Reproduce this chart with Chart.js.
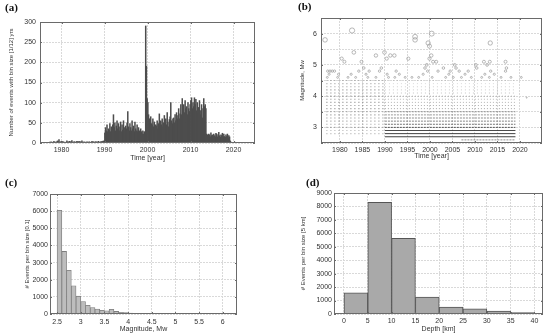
<!DOCTYPE html>
<html>
<head>
<meta charset="utf-8">
<script src="https://cdn.jsdelivr.net/npm/chart.js@4.4.0/dist/chart.umd.min.js"></script>
<style>
  body { margin: 0; background: #fff; }
  #fig { position: relative; width: 550px; height: 334px; overflow: hidden; }
  .panel { position: absolute; width: 275px; height: 167px; }
  .tag { position: absolute; font: bold 11px 'Liberation Serif', 'DejaVu Serif', serif; line-height: 12px; color: #111; }
</style>
</head>
<body>
<div id="fig">
  <div class="panel" style="left:0;top:0"><canvas id="chartA" width="275" height="167"></canvas></div>
  <div class="panel" style="left:275px;top:0"><canvas id="chartB" width="275" height="167"></canvas></div>
  <div class="panel" style="left:0;top:167px"><canvas id="chartC" width="275" height="167"></canvas></div>
  <div class="panel" style="left:275px;top:167px"><canvas id="chartD" width="275" height="167"></canvas></div>
  <div class="tag" style="left:5px;top:1px">(a)</div>
  <div class="tag" style="left:298px;top:0px">(b)</div>
  <div class="tag" style="left:5px;top:176px">(c)</div>
  <div class="tag" style="left:306px;top:176px">(d)</div>
</div>
<script>
// (a) events per month, read as 6 bins a year starting 1977
const countStartYear = 1977;
const binsPerYear = 6;
const eventCounts = [
  0, 2, 0, 3, 1, 0,        // 1977
  2, 4, 1, 0, 3, 2,        // 1978
  5, 3, 8, 2, 1, 4,        // 1979
  2, 0, 3, 1, 2, 0,        // 1980
  1, 5, 2, 3, 0, 4,        // 1981
  2, 3, 6, 1, 2, 3,        // 1982
  3, 1, 2, 4, 3, 2,        // 1983
  4, 2, 3, 1, 5, 2,        // 1984
  1, 3, 0, 2, 1, 3,        // 1985
  2, 1, 3, 2, 0, 1,        // 1986
  4, 2, 3, 1, 2, 3,        // 1987
  2, 3, 1, 4, 2, 1,        // 1988
  3, 2, 4, 3, 5, 4,        // 1989
  25, 38, 30, 45, 28, 35,  // 1990
  32, 48, 28, 40, 35, 45,  // 1991
  70, 38, 50, 30, 42, 55,  // 1992
  35, 48, 30, 40, 52, 28,  // 1993
  45, 32, 55, 38, 30, 42,  // 1994
  35, 50, 78, 40, 30, 48,  // 1995
  38, 30, 55, 35, 42, 28,  // 1996
  52, 35, 30, 45, 28, 38,  // 1997
  30, 25, 35, 28, 22, 30,  // 1998
  22, 28, 20, 290, 190, 110, // 1999
  100, 70, 60, 55, 65, 48, // 2000
  45, 60, 40, 52, 38, 45,  // 2001
  42, 55, 35, 48, 72, 40,  // 2002
  55, 45, 60, 40, 50, 68,  // 2003
  48, 60, 45, 75, 52, 40,  // 2004
  58, 65, 100, 55, 48, 60, // 2005
  62, 50, 70, 55, 75, 60,  // 2006
  68, 85, 60, 72, 95, 70,  // 2007
  110, 80, 95, 75, 105, 85, // 2008
  90, 70, 100, 85, 78, 95, // 2009
  105, 112, 85, 100, 90, 112, // 2010
  95, 108, 80, 100, 72, 88, // 2011
  105, 80, 70, 95, 62, 85, // 2012
  110, 90, 95, 85, 22, 20, // 2013
  18, 22, 20, 15, 25, 18,  // 2014
  20, 16, 22, 18, 15, 24,  // 2015
  22, 15, 20, 26, 18, 14,  // 2016
  20, 18, 24, 15, 22, 16,  // 2017
  14, 20, 16, 22, 12, 18,  // 2018
  15, 5, 2, 0, 1, 0,       // 2019
  1, 2, 0, 1, 0, 0         // 2020
];
const timeTicksA = [1980, 1990, 2000, 2010, 2020];
const countTicks = [0, 50, 100, 150, 200, 250, 300];

// (b) magnitude vs time: dense rows of small events, then single larger events
const rowMags   = [2.6, 2.7, 2.8, 2.9, 3.0, 3.1, 3.2, 3.3, 3.4, 3.5, 3.6, 3.7, 3.8, 3.9, 4.0, 4.1, 4.2, 4.3, 4.4, 4.5];
const rowFrom   = [2007, 1990, 1990, 1990, 1990, 1990, 1990, 1990, 1990, 1990, 1990, 1990, 1990, 1990, 1990, 1990, 1990, 1990, 1990, 1990];
const rowTo     = [2019, 2019, 2019, 2019, 2019, 2019, 2019, 2019, 2019, 2019, 2019, 2019, 2019, 2019, 2019, 2019, 2019, 2019, 2019, 2019];
const rowShade  = [0.5, 0.85, 0.85, 0.8, 0.72, 0.62, 0.55, 0.5, 0.45, 0.42, 0.38, 0.35, 0.32, 0.3, 0.28, 0.25, 0.22, 0.2, 0.16, 0.14];
const earlyShade = [0, 0, 0.35, 0.35, 0.45, 0.45, 0.45, 0.5, 0.5, 0.5, 0.5, 0.5, 0.5, 0.5, 0.55, 0.55, 0.5, 0.45, 0.4, 0.35];
const earlyFrom = 1977;
const earlyTo = 1990;
const eventYears = [
  1976.7, 1982.7, 1983.1, 1980.4, 1981.0, 1984.8, 1988.0, 1989.9, 1990.4, 1991.2, 1992.1,
  1995.2, 1996.7, 1996.7, 1999.6, 1999.9, 2000.4, 1999.9, 2000.3, 2000.7, 2001.4, 2013.4,
  2012.0, 2013.3, 2016.8, 1999.3, 2005.5, 2010.2, 2012.7,
  1977.3, 1977.8, 1978.3, 1978.8, 1984.2, 1986.5, 1988.8, 1992.5, 1999.5, 2001.8, 2004.5,
  2006.5, 2008.5, 2013.5, 2016.8,
  1977.6, 1979.7, 1982.5, 1985.8, 1990.5, 1993.2, 1998.5, 2004.2, 2007.8, 2012.2, 2014.3,
  1985.3, 1989.2, 1998.9, 2003.0, 2005.8, 2010.4, 2017.0,
  1977.2, 1979.5, 1981.8, 1983.5, 1986.2, 1988.0, 1990.8, 1992.2, 1994.5, 1996.0, 1997.5,
  2000.5, 2003.5, 2005.2, 2007.0, 2009.2, 2011.5, 2013.2, 2015.8, 2018.0, 2020.3, 2021.5
];
const eventMags = [
  5.8, 6.1, 5.4, 5.2, 5.1, 5.1, 5.3, 5.4, 5.2, 5.3, 5.3,
  5.2, 5.9, 5.8, 5.7, 5.6, 6.0, 5.2, 5.3, 5.1, 5.1, 5.7,
  5.1, 5.1, 5.1, 5.0, 5.0, 5.0, 5.0,
  4.8, 4.8, 4.8, 4.8, 4.8, 4.8, 4.8, 4.8, 4.8, 4.8, 4.8,
  4.8, 4.8, 4.8, 4.8,
  4.7, 4.7, 4.7, 4.7, 4.7, 4.7, 4.7, 4.7, 4.7, 4.7, 4.7,
  4.9, 4.9, 4.9, 4.9, 4.9, 4.9, 4.9,
  4.6, 4.6, 4.6, 4.6, 4.6, 4.6, 4.6, 4.6, 4.6, 4.6, 4.6,
  4.6, 4.6, 4.6, 4.6, 4.6, 4.6, 4.6, 4.6, 4.6, 4.6, 3.95
];
const timeTicksB = [1980, 1985, 1990, 1995, 2000, 2005, 2010, 2015, 2020];
const magTicksB = [2.5, 3, 3.5, 4, 4.5, 5, 5.5, 6, 6.5];

// (c) magnitude histogram, 0.1 bins
const magBins = [2.5, 2.6, 2.7, 2.8, 2.9, 3.0, 3.1, 3.2, 3.3, 3.4, 3.5, 3.6, 3.7, 3.8, 3.9, 4.0, 4.1, 4.2, 4.3,
                 4.4, 4.5, 4.6, 4.7, 4.8, 4.9, 5.0, 5.1, 5.2, 5.3, 5.4, 5.5, 5.6, 5.7, 5.8, 5.9, 6.0, 6.1];
const magCounts = [6050, 3650, 2550, 1650, 1040, 730, 510, 380, 290, 220, 190, 270, 150, 100, 80, 60, 45, 35, 25,
                   20, 18, 14, 12, 8, 5, 5, 6, 4, 3, 2, 0, 1, 2, 2, 1, 1, 1];
const magBinWidth = 0.1;
const magTicksC = [2.5, 3, 3.5, 4, 4.5, 5, 5.5, 6];
const countTicksC = [0, 1000, 2000, 3000, 4000, 5000, 6000, 7000];

// (d) depth histogram, 5 km bins
const depthBins = [0, 5, 10, 15, 20, 25, 30, 35];
const depthCounts = [1570, 8310, 5620, 1250, 510, 380, 210, 100];
const depthBinWidth = 5;
const depthTicks = [0, 5, 10, 15, 20, 25, 30, 35, 40];
const countTicksD = [0, 1000, 2000, 3000, 4000, 5000, 6000, 7000, 8000, 9000];

Chart.defaults.font.family = "'Liberation Sans', Arial, sans-serif";
Chart.defaults.animation = false;
Chart.defaults.plugins.legend.display = false;
Chart.defaults.plugins.tooltip.enabled = false;

const H = 167, W = 275;
const gridColor = '#d9d9d9';
const textColor = '#333';

// box round the plot with small inward ticks on all sides
const frame = {
  id: 'frame',
  afterDraw(chart) {
    const { ctx, chartArea: a, scales } = chart;
    ctx.save();
    ctx.strokeStyle = '#6a6a6a';
    ctx.lineWidth = 1;
    ctx.strokeRect(Math.round(a.left) + 0.5, Math.round(a.top) + 0.5,
      Math.round(a.right - a.left) - 1, Math.round(a.bottom - a.top) - 1);
    ctx.beginPath();
    scales.x.ticks.forEach(t => {
      const px = Math.round(scales.x.getPixelForValue(t.value)) + 0.5;
      ctx.moveTo(px, a.top); ctx.lineTo(px, a.top + 2);
      ctx.moveTo(px, a.bottom); ctx.lineTo(px, a.bottom - 2);
    });
    scales.y.ticks.forEach(t => {
      const py = Math.round(scales.y.getPixelForValue(t.value)) + 0.5;
      ctx.moveTo(a.left, py); ctx.lineTo(a.left + 2, py);
      ctx.moveTo(a.right, py); ctx.lineTo(a.right - 2, py);
    });
    ctx.stroke();
    ctx.restore();
  }
};

function xAxis(g, min, max, ticks, title, tickPad, titlePad, fmt) {
  return {
    type: 'linear', min, max, offset: false,
    afterBuildTicks: s => { s.ticks = ticks.map(v => ({ value: v })); },
    afterFit: s => { s.height = H - g.B; },
    grid: { color: gridColor, drawTicks: false, offset: false },
    border: { display: false, dash: [2, 1] },
    ticks: { padding: tickPad, font: { size: 7 }, color: textColor, maxRotation: 0, autoSkip: false,
             callback: fmt || (v => String(v)) },
    title: { display: true, text: title, font: { size: 7 }, color: textColor, padding: { top: 0, bottom: titlePad } }
  };
}

function yAxis(g, min, max, ticks, title, tickPad, titlePad, fmt, titleSize) {
  return {
    type: 'linear', min, max,
    afterBuildTicks: s => { s.ticks = ticks.map(v => ({ value: v })); },
    afterFit: s => { s.width = g.L; },
    grid: { color: gridColor, drawTicks: false },
    border: { display: false, dash: [2, 1] },
    ticks: { padding: tickPad, font: { size: 7 }, color: textColor, autoSkip: false,
             callback: fmt || (v => String(v)) },
    title: { display: true, text: title, font: { size: titleSize || 6 }, color: textColor, padding: { top: titlePad, bottom: 0 } }
  };
}

function layoutFor(g) {
  return { padding: { left: 0, top: g.T, right: W - g.R, bottom: 0 } };
}

// ---- (a)
const gA = { L: 40, R: 255, T: 22, B: 143 };
new Chart(document.getElementById('chartA'), {
  type: 'bar',
  data: {
    datasets: [{
      data: eventCounts.map((c, i) => ({ x: countStartYear + (i + 0.5) / binsPerYear, y: c })),
      backgroundColor: '#4d4d4d',
      borderWidth: 0,
      inflateAmount: 0.4,
      barPercentage: 1,
      categoryPercentage: 1
    }]
  },
  options: {
    responsive: false,
    layout: layoutFor(gA),
    scales: {
      x: xAxis(gA, 1975, 2025, timeTicksA, 'Time [year]', 3, 5),
      y: yAxis(gA, 0, 300, countTicks, 'Number of events with bin size [1/12] yrs', 4, 8)
    }
  },
  plugins: [frame]
});

// ---- (b)
const gB = { L: 46, R: 267, T: 18, B: 143 };
const rowSets = [];
rowMags.forEach((m, i) => {
  const s = rowShade[i];
  rowSets.push({
    type: 'line',
    data: [{ x: rowFrom[i], y: m }, { x: rowTo[i], y: m }],
    borderColor: `rgba(30,30,30,${s})`,
    borderWidth: 1,
    borderDash: s > 0.78 ? [] : s > 0.4 ? [2, 1] : s > 0.25 ? [1, 2] : [1, 3],
    pointRadius: 0
  });
  if (earlyShade[i] > 0) {
    rowSets.push({
      type: 'line',
      data: [{ x: earlyFrom, y: m }, { x: earlyTo, y: m }],
      borderColor: `rgba(30,30,30,${earlyShade[i]})`,
      borderWidth: 1.2,
      borderDash: [1, 3],
      pointRadius: 0
    });
  }
});
new Chart(document.getElementById('chartB'), {
  type: 'scatter',
  data: {
    datasets: rowSets.concat([{
      data: eventYears.map((y, i) => ({ x: y, y: eventMags[i] })),
      pointStyle: 'circle',
      pointRadius: ctx => 0.3 + Math.max(ctx.raw.y - 4, 0.2) * 1.1,
      backgroundColor: 'rgba(0,0,0,0)',
      borderColor: '#9a9a9a',
      borderWidth: 0.7
    }])
  },
  options: {
    responsive: false,
    layout: layoutFor(gB),
    scales: {
      x: xAxis(gB, 1975.8, 2024.9, timeTicksB, 'Time [year]', 3, 7),
      y: yAxis(gB, 2.5, 6.5, magTicksB, 'Magnitude, Mw', 4, 24,
               v => Number.isInteger(v) ? String(v) : '')
    }
  },
  plugins: [frame]
});

// ---- (c)
const gC = { L: 50, R: 237, T: 27, B: 147 };
new Chart(document.getElementById('chartC'), {
  type: 'bar',
  data: {
    datasets: [{
      data: magBins.map((b, i) => ({ x: b + magBinWidth / 2, y: magCounts[i] })),
      backgroundColor: '#bdbdbd',
      borderColor: '#7d7d7d',
      borderWidth: 0.8,
      barPercentage: 1,
      categoryPercentage: 1
    }]
  },
  options: {
    responsive: false,
    layout: layoutFor(gC),
    scales: {
      x: xAxis(gC, 2.35, 6.3, magTicksC, 'Magnitude, Mw', 4, 1),
      y: yAxis(gC, 0, 7000, countTicksC, '# Events per bin size [0.1]', 2, 24)
    }
  },
  plugins: [frame]
});

// ---- (d)
const gD = { L: 59, R: 268, T: 26, B: 147 };
new Chart(document.getElementById('chartD'), {
  type: 'bar',
  data: {
    datasets: [{
      data: depthBins.map((b, i) => ({ x: b + depthBinWidth / 2, y: depthCounts[i] })),
      backgroundColor: '#a9a9a9',
      borderColor: '#555',
      borderWidth: 1,
      barPercentage: 1,
      categoryPercentage: 1
    }]
  },
  options: {
    responsive: false,
    layout: layoutFor(gD),
    scales: {
      x: xAxis(gD, -2.1, 41.8, depthTicks, 'Depth [km]', 3, 1),
      y: yAxis(gD, 0, 9000, countTicksD, '# Events per bin size [5 km]', 2, 25)
    }
  },
  plugins: [frame]
});
</script>
</body>
</html>
